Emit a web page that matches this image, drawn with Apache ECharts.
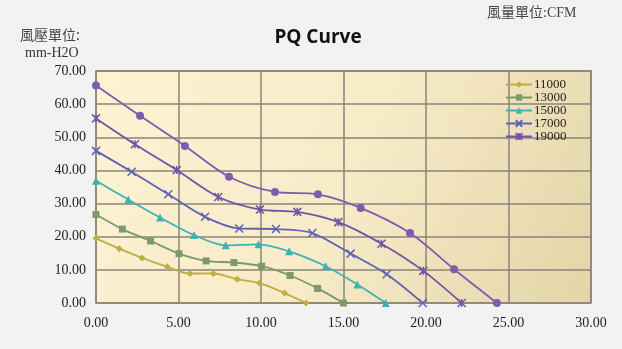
<!DOCTYPE html>
<html><head><meta charset="utf-8">
<script src="https://cdn.jsdelivr.net/npm/echarts@6/dist/echarts.min.js"></script>
<style>html,body{margin:0;padding:0;background:#f2f2f2;}#c{width:622px;height:349px;}</style>
</head><body><div id="c"></div>
<script>
const seriesNames = ['11000','13000','15000','17000','19000','21000'];
const x11000 = [0, 1.41, 2.79, 4.32, 5.70, 7.11, 8.56, 9.90, 11.43, 12.73];
const y11000 = [19.5, 16.4, 13.6, 10.9, 8.9, 8.9, 7.2, 6.0, 3.0, 0];
const x13000 = [0, 1.6, 3.31, 5.03, 6.67, 8.36, 10.04, 11.76, 13.43, 14.99];
const y13000 = [26.7, 22.3, 18.7, 14.9, 12.7, 12.2, 11.1, 8.3, 4.4, 0];
const x15000 = [0, 1.96, 3.88, 5.94, 7.86, 9.84, 11.70, 13.92, 15.84, 17.56];
const y15000 = [36.9, 31.2, 25.8, 20.5, 17.4, 17.7, 15.6, 11.1, 5.6, 0];
const x17000 = [0, 2.16, 4.38, 6.61, 8.68, 10.91, 13.11, 15.43, 17.62, 19.8];
const y17000 = [45.9, 39.6, 32.8, 26.0, 22.5, 22.3, 21.1, 14.9, 8.7, 0];
const x19000 = [0, 2.36, 4.89, 7.41, 9.94, 12.2, 14.69, 17.3, 19.84, 22.16];
const y19000 = [55.7, 47.9, 40.1, 32.0, 28.2, 27.5, 24.4, 17.9, 9.7, 0];
const x21000 = [0, 2.67, 5.39, 8.06, 10.85, 13.45, 16.04, 19.03, 21.7, 24.3];
const y21000 = [65.6, 56.5, 47.4, 38.1, 33.5, 32.8, 28.7, 21.1, 10.2, 0];
const xTicks = [0, 5, 10, 15, 20, 25, 30];
const yTicks = [0, 10, 20, 30, 40, 50, 60, 70];

const xs = [x11000, x13000, x15000, x17000, x19000, x21000];
const ys = [y11000, y13000, y15000, y17000, y19000, y21000];
const colors = ['#bfae45', '#7d9a6c', '#3fb1b5', '#5d62b4', '#7152a8', '#7f5cb0'];
const crossPath = 'path://M0,0L10,10M10,0L0,10';
const starPath = 'path://M0,0L10,10M10,0L0,10M5,0L5,10';
const symbols = ['diamond', 'rect', 'triangle', crossPath, starPath, 'circle'];
const sizes = [7, 7, 8, 8, 8, 8];

const chart = echarts.init(document.getElementById('c'));
const series = seriesNames.map((n, i) => {
  const stroked = (i === 3 || i === 4);
  return {
    name: n, type: 'line', smooth: 0.3,
    data: xs[i].map((x, j) => [x, ys[i][j]]),
    symbol: symbols[i], symbolSize: sizes[i],
    lineStyle: { color: colors[i], width: 1.8 },
    itemStyle: stroked ? { color: colors[i], borderColor: colors[i], borderWidth: 1.5 } : { color: colors[i] },
    emphasis: { disabled: true }
  };
});
chart.setOption({
  animation: false,
  backgroundColor: '#f2f2f2',
  title: { text: 'PQ Curve', left: 313, textAlign: 'center', top: 23,
    textStyle: { fontFamily: 'Open Sans', fontWeight: 'bold', fontSize: 19, color: '#111' } },
  graphic: [
    { type: 'text', left: 20, top: 28, style: { text: '風壓單位:', font: '14px "Noto Sans CJK TC"', fill: '#444' } },
    { type: 'text', left: 25, top: 46, style: { text: 'mm-H2O', font: '14px "Liberation Serif"', fill: '#333' } },
    { type: 'text', left: 487, top: 6, style: { text: '風量單位:CFM', font: '14px "Liberation Serif", "Noto Sans CJK TC"', fill: '#444' } }
  ],
  legend: {
    data: ['11000', '13000', '15000', '17000', '19000'],
    orient: 'vertical', left: 500, top: 73,
    itemWidth: 26, itemHeight: 8, itemGap: 0,
    textStyle: { fontFamily: 'Liberation Serif', fontSize: 13, color: '#222', lineHeight: 13, padding: [0, 0, 0, -3] }
  },
  grid: {
    left: 96, right: 31, top: 71, bottom: 46, show: true,
    borderColor: '#8a8478', borderWidth: 1.5,
    backgroundColor: { type: 'linear', x: 0, y: 0, x2: 1, y2: 1,
      colorStops: [{ offset: 0, color: '#fdf2d2' }, { offset: 0.5, color: '#f7ebc8' }, { offset: 1, color: '#e3d5a8' }] }
  },
  xAxis: {
    type: 'value', min: xTicks[0], max: xTicks[xTicks.length - 1], interval: 5,
    axisLine: { show: false }, axisTick: { show: false },
    splitLine: { lineStyle: { color: '#8a8478', width: 1.5 } },
    axisLabel: { formatter: v => v.toFixed(2), fontFamily: 'Liberation Serif', fontSize: 14, color: '#222', margin: 13 }
  },
  yAxis: {
    type: 'value', min: yTicks[0], max: yTicks[yTicks.length - 1], interval: 10,
    axisLine: { show: false }, axisTick: { show: false },
    splitLine: { lineStyle: { color: '#8a8478', width: 1.5 } },
    axisLabel: { formatter: v => v.toFixed(2), fontFamily: 'Liberation Serif', fontSize: 14, color: '#222', margin: 10 }
  },
  series: series
});
</script></body></html>
